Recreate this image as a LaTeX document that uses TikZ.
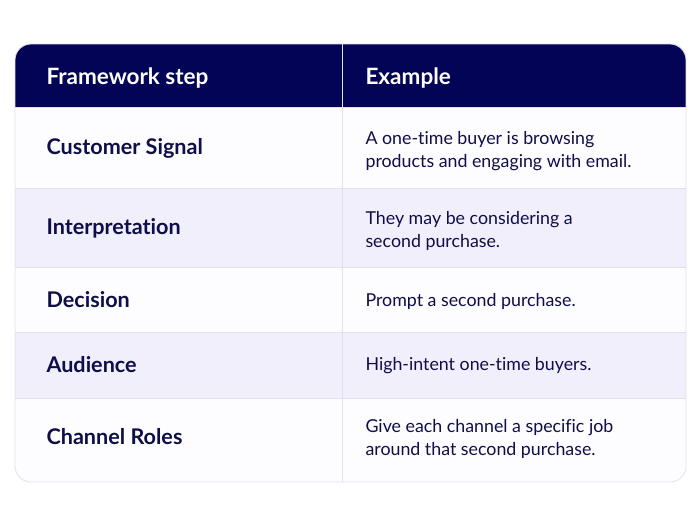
\documentclass[tikz,border=0pt]{standalone}
\usepackage{fontspec}
\setmainfont{Lato}[Ligatures=NoCommon]
\usepackage{tikz}
\usetikzlibrary{positioning,calc}
\definecolor{headcolor}{RGB}{4, 4, 86}
\definecolor{textcolor}{RGB}{14, 14, 72}
\definecolor{lavcolor}{RGB}{242, 239, 253}
\definecolor{whitecolor}{RGB}{253, 253, 255}
\definecolor{rulecolor}{RGB}{226, 224, 238}

\begin{document}
\begin{tikzpicture}[
    x=1pt, y=-1pt,
    head/.style={anchor=west, text=white, font=\fontsize{22.5}{26}\selectfont\bfseries},
    stepname/.style={anchor=west, text=textcolor, font=\fontsize{21.6}{26}\selectfont\bfseries},
    example/.style={anchor=west, text=textcolor, align=left, font=\fontsize{17.8}{22.5}\selectfont},
]
    \useasboundingbox[fill=white] (0,0) rectangle (700,525);

    % === ROW BACKGROUNDS ===
    \begin{scope}
        \clip[rounded corners=16] (15,44) rectangle (686,482);
        \fill[headcolor] (15,44) rectangle (686,107);
        \foreach \ya/\yb/\c in {107/188/whitecolor, 188/267/lavcolor, 267/332/whitecolor, 332/398/lavcolor, 398/482/whitecolor} {
            \fill[\c] (15,\ya) rectangle (686,\yb);
            \draw[rulecolor, line width=0.8] (15,\ya) -- (686,\ya);
        }
    \end{scope}
    \draw[rulecolor, line width=0.8] (342,44) -- (342,482);
    \draw[rulecolor, line width=0.8, rounded corners=16] (15,44) rectangle (686,482);

    % Header
    \node[head] (hstep) at (43,78) {Framework step};
    \node[head] (hex) at (362,78) {Example};

    % Rows
    \node[stepname] (s1) at (43,148) {Customer Signal};
    \node[example] (e1) at (362,151) {A one-time buyer is browsing\\products and engaging with email.};

    \node[stepname] (s2) at (43,228) {Interpretation};
    \node[example] (e2) at (362,231) {They may be considering a\\second purchase.};

    \node[stepname] (s3) at (43,300) {Decision};
    \node[example] (e3) at (362,301) {Prompt a second purchase.};

    \node[stepname] (s4) at (43,365) {Audience};
    \node[example] (e4) at (362,366) {High-intent one-time buyers.};

    \node[stepname] (s5) at (43,437) {Channel Roles};
    \node[example] (e5) at (362,439) {Give each channel a specific job\\around that second purchase.};

\end{tikzpicture}
\end{document}
